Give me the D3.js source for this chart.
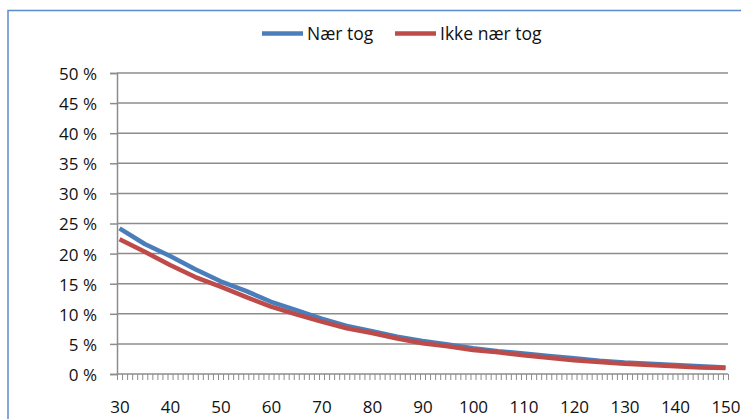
<!DOCTYPE html>
<html>
<head>
<meta charset="utf-8">
<script src="https://cdn.jsdelivr.net/npm/d3@7"></script>
<style>
  html, body { margin: 0; padding: 0; background: #fff; }
  svg { display: block; }
  text { font-family: "Open Sans", "Liberation Sans", sans-serif; fill: #111; }
</style>
</head>
<body>
<svg id="chart" width="741" height="419"></svg>
<script>
// ---- data ----
const distances = [30, 35, 40, 45, 50, 55, 60, 65, 70, 75, 80, 85, 90, 95, 100, 105, 110, 115, 120, 125, 130, 135, 140, 145, 150];
const naerTog =     [24.2, 21.6, 19.6, 17.4, 15.4, 13.8, 12.0, 10.6, 9.2, 8.0, 7.1, 6.2, 5.5, 4.9, 4.3, 3.8, 3.4, 3.0, 2.6, 2.2, 1.9, 1.7, 1.5, 1.3, 1.1];
const ikkeNaerTog = [22.4, 20.3, 18.1, 16.1, 14.5, 12.8, 11.2, 9.9, 8.7, 7.6, 6.8, 5.9, 5.1, 4.6, 4.0, 3.6, 3.1, 2.7, 2.3, 2.0, 1.7, 1.5, 1.3, 1.1, 1.0];
const seriesNames = ["Nær tog", "Ikke nær tog"];
const seriesColors = ["#4a7ebb", "#be4b48"];
const yTicks = [0, 5, 10, 15, 20, 25, 30, 35, 40, 45, 50];
const xLabels = [30, 40, 50, 60, 70, 80, 90, 100, 110, 120, 130, 140, 150];

const svg = d3.select("#chart");

// outer frame
svg.append("rect")
  .attr("x", 8).attr("y", 10.5)
  .attr("width", 760).attr("height", 440)
  .attr("fill", "none").attr("stroke", "#5b8ccc").attr("stroke-width", 1.5);

const x = d3.scaleLinear().domain([29.5, 150.5]).range([117, 728]);
const y = d3.scaleLinear().domain([0, 50]).range([374, 73]);

// gridlines
svg.append("g").selectAll("line")
  .data(yTicks.filter(d => d > 0))
  .join("line")
  .attr("x1", x(29.5)).attr("x2", x(150.5))
  .attr("y1", d => y(d)).attr("y2", d => y(d))
  .attr("stroke", "#8c8c8c").attr("stroke-width", 1.5);

// y axis
const yAxis = d3.axisLeft(y).tickValues(yTicks).tickSize(7).tickPadding(6)
  .tickFormat(d => d + " %");
const gy = svg.append("g").attr("transform", `translate(${x(29.5)},0)`).call(yAxis);
gy.select(".domain").attr("stroke", "#8c8c8c").attr("stroke-width", 1.5);
gy.selectAll(".tick line").attr("stroke", "#8c8c8c").attr("stroke-width", 1.5);
gy.selectAll(".tick text").style("font-size", "17px").attr("dx", "-7").attr("dy", "0.38em");

// x axis (minor ticks between categories)
const minorTicks = d3.range(29.5, 151, 1);
const xAxisTicks = d3.axisBottom(x).tickValues(minorTicks).tickSize(6).tickFormat("");
const gx = svg.append("g").attr("transform", `translate(0,${y(0)})`).call(xAxisTicks);
gx.select(".domain").attr("stroke", "#8c8c8c").attr("stroke-width", 1.5).attr("d", `M${x(29.5)},0H${x(150.5)}`);
gx.selectAll(".tick line").attr("stroke", "#8c8c8c").attr("stroke-width", 1);

const xAxisLabels = d3.axisBottom(x).tickValues(xLabels).tickSize(0).tickPadding(0).tickFormat(d3.format("d"));
const gxl = svg.append("g").attr("transform", `translate(0,${y(0)})`).call(xAxisLabels);
gxl.select(".domain").remove();
gxl.selectAll(".tick text").style("font-size", "17px").attr("dy", null).attr("y", 39);

// lines
const line = d3.line().x((d, i) => x(distances[i])).y(d => y(d)).curve(d3.curveLinear);
[naerTog, ikkeNaerTog].forEach((s, k) => {
  svg.append("path").datum(s)
    .attr("d", line)
    .attr("fill", "none")
    .attr("stroke", seriesColors[k])
    .attr("stroke-width", 4.5)
    .attr("stroke-linejoin", "round");
});

// legend
const legendItems = [
  { name: seriesNames[0], color: seriesColors[0], x: 262 },
  { name: seriesNames[1], color: seriesColors[1], x: 395 }
];
const lg = svg.append("g");
legendItems.forEach(it => {
  lg.append("line").attr("x1", it.x).attr("x2", it.x + 41).attr("y1", 33.5).attr("y2", 33.5)
    .attr("stroke", it.color).attr("stroke-width", 4.5);
  lg.append("text").attr("x", it.x + 45).attr("y", 40).style("font-size", "17.5px").text(it.name);
});
</script>
</body>
</html>
